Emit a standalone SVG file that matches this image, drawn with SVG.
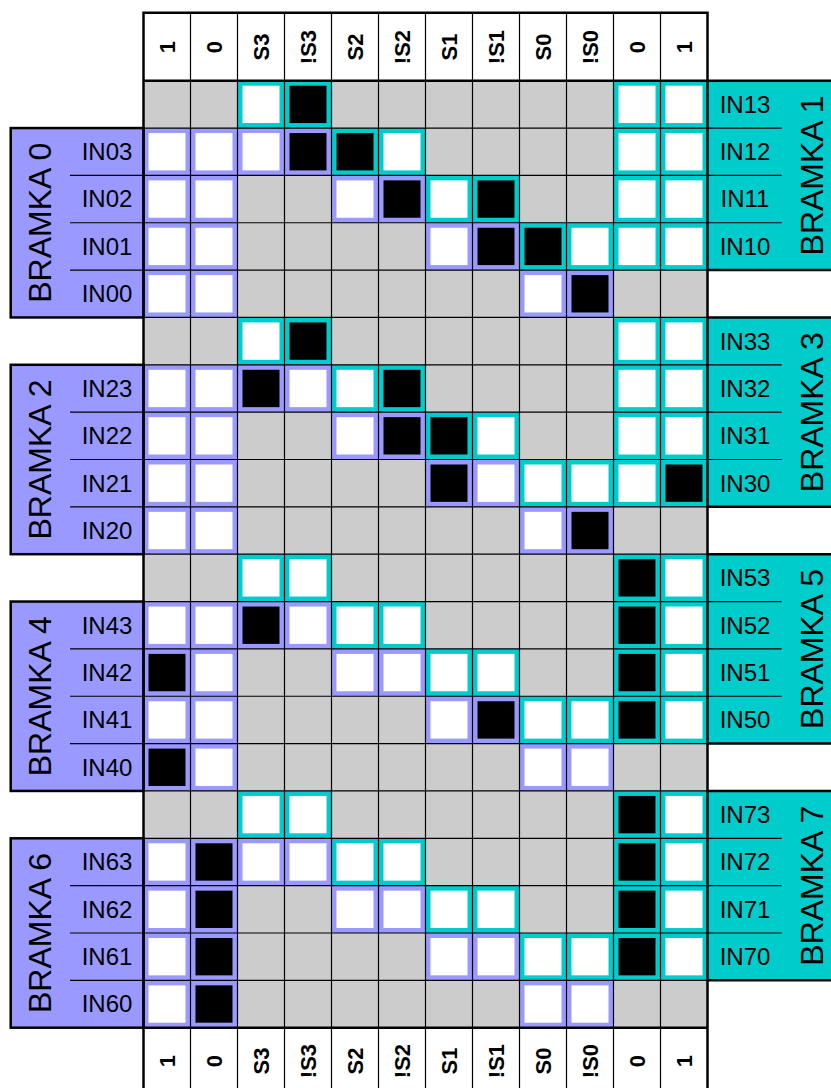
<svg xmlns="http://www.w3.org/2000/svg" width="831" height="1088" viewBox="0 0 831 1088">
<style>
.bg{fill:#fff}
.gr{fill:#cccccc}
.pf{fill:#9999ff}
.cf{fill:#00cccc}
.tp{stroke:#9999ff;stroke-width:5}
.tc{stroke:#00cccc;stroke-width:5}
.w{fill:#fff}
.k{fill:#000}
.thin{stroke:#000;stroke-width:1.2;fill:none}
.thick{stroke:#000;stroke-width:2.5;fill:none}
.hd{font-family:"Liberation Sans",Arial,sans-serif;font-weight:bold;font-size:22px;text-anchor:middle}
.in{font-family:"Liberation Sans",Arial,sans-serif;font-size:24px;text-anchor:middle}
.br{font-family:"Liberation Sans",Arial,sans-serif;font-size:32px;text-anchor:middle}
</style>
<rect class="bg" x="0" y="0" width="831" height="1088"/>
<rect class="gr" x="143.5" y="80.7" width="564" height="947"/>

<g id="bramka0"><rect class="pf" x="10.7" y="128.05" width="132.8" height="189.4"/></g>
<g id="bramka2"><rect class="pf" x="10.7" y="364.8" width="132.8" height="189.4"/></g>
<g id="bramka4"><rect class="pf" x="10.7" y="601.55" width="132.8" height="189.4"/></g>
<g id="bramka6"><rect class="pf" x="10.7" y="838.3" width="132.8" height="189.4"/></g>
<g id="bramka1"><rect class="cf" x="707.5" y="80.7" width="130" height="189.4"/></g>
<g id="bramka3"><rect class="cf" x="707.5" y="317.45" width="130" height="189.4"/></g>
<g id="bramka5"><rect class="cf" x="707.5" y="554.2" width="130" height="189.4"/></g>
<g id="bramka7"><rect class="cf" x="707.5" y="790.95" width="130" height="189.4"/></g>

<g id="tiles">
<g transform="translate(0,80.7)">
<rect class="tc w" x="240" y="2.5" width="42" height="42.35"/>
<rect class="tc k" x="287" y="2.5" width="42" height="42.35"/>
<rect class="tc w" x="616" y="2.5" width="42" height="42.35"/>
<rect class="tc w" x="663" y="2.5" width="42" height="42.35"/>
</g>
<g transform="translate(0,128.05)">
<rect class="tp w" x="146" y="2.5" width="42" height="42.35"/>
<rect class="tp w" x="193" y="2.5" width="42" height="42.35"/>
<rect class="tp w" x="240" y="2.5" width="42" height="42.35"/>
<rect class="tp k" x="287" y="2.5" width="42" height="42.35"/>
<rect class="tc k" x="334" y="2.5" width="42" height="42.35"/>
<rect class="tc w" x="381" y="2.5" width="42" height="42.35"/>
<rect class="tc w" x="616" y="2.5" width="42" height="42.35"/>
<rect class="tc w" x="663" y="2.5" width="42" height="42.35"/>
</g>
<g transform="translate(0,175.4)">
<rect class="tp w" x="146" y="2.5" width="42" height="42.35"/>
<rect class="tp w" x="193" y="2.5" width="42" height="42.35"/>
<rect class="tp w" x="334" y="2.5" width="42" height="42.35"/>
<rect class="tp k" x="381" y="2.5" width="42" height="42.35"/>
<rect class="tc w" x="428" y="2.5" width="42" height="42.35"/>
<rect class="tc k" x="475" y="2.5" width="42" height="42.35"/>
<rect class="tc w" x="616" y="2.5" width="42" height="42.35"/>
<rect class="tc w" x="663" y="2.5" width="42" height="42.35"/>
</g>
<g transform="translate(0,222.75)">
<rect class="tp w" x="146" y="2.5" width="42" height="42.35"/>
<rect class="tp w" x="193" y="2.5" width="42" height="42.35"/>
<rect class="tp w" x="428" y="2.5" width="42" height="42.35"/>
<rect class="tp k" x="475" y="2.5" width="42" height="42.35"/>
<rect class="tc k" x="522" y="2.5" width="42" height="42.35"/>
<rect class="tc w" x="569" y="2.5" width="42" height="42.35"/>
<rect class="tc w" x="616" y="2.5" width="42" height="42.35"/>
<rect class="tc w" x="663" y="2.5" width="42" height="42.35"/>
</g>
<g transform="translate(0,270.1)">
<rect class="tp w" x="146" y="2.5" width="42" height="42.35"/>
<rect class="tp w" x="193" y="2.5" width="42" height="42.35"/>
<rect class="tp w" x="522" y="2.5" width="42" height="42.35"/>
<rect class="tp k" x="569" y="2.5" width="42" height="42.35"/>
</g>
<g transform="translate(0,317.45)">
<rect class="tc w" x="240" y="2.5" width="42" height="42.35"/>
<rect class="tc k" x="287" y="2.5" width="42" height="42.35"/>
<rect class="tc w" x="616" y="2.5" width="42" height="42.35"/>
<rect class="tc w" x="663" y="2.5" width="42" height="42.35"/>
</g>
<g transform="translate(0,364.8)">
<rect class="tp w" x="146" y="2.5" width="42" height="42.35"/>
<rect class="tp w" x="193" y="2.5" width="42" height="42.35"/>
<rect class="tp k" x="240" y="2.5" width="42" height="42.35"/>
<rect class="tp w" x="287" y="2.5" width="42" height="42.35"/>
<rect class="tc w" x="334" y="2.5" width="42" height="42.35"/>
<rect class="tc k" x="381" y="2.5" width="42" height="42.35"/>
<rect class="tc w" x="616" y="2.5" width="42" height="42.35"/>
<rect class="tc w" x="663" y="2.5" width="42" height="42.35"/>
</g>
<g transform="translate(0,412.15)">
<rect class="tp w" x="146" y="2.5" width="42" height="42.35"/>
<rect class="tp w" x="193" y="2.5" width="42" height="42.35"/>
<rect class="tp w" x="334" y="2.5" width="42" height="42.35"/>
<rect class="tp k" x="381" y="2.5" width="42" height="42.35"/>
<rect class="tc k" x="428" y="2.5" width="42" height="42.35"/>
<rect class="tc w" x="475" y="2.5" width="42" height="42.35"/>
<rect class="tc w" x="616" y="2.5" width="42" height="42.35"/>
<rect class="tc w" x="663" y="2.5" width="42" height="42.35"/>
</g>
<g transform="translate(0,459.5)">
<rect class="tp w" x="146" y="2.5" width="42" height="42.35"/>
<rect class="tp w" x="193" y="2.5" width="42" height="42.35"/>
<rect class="tp k" x="428" y="2.5" width="42" height="42.35"/>
<rect class="tp w" x="475" y="2.5" width="42" height="42.35"/>
<rect class="tc w" x="522" y="2.5" width="42" height="42.35"/>
<rect class="tc w" x="569" y="2.5" width="42" height="42.35"/>
<rect class="tc w" x="616" y="2.5" width="42" height="42.35"/>
<rect class="tc k" x="663" y="2.5" width="42" height="42.35"/>
</g>
<g transform="translate(0,506.85)">
<rect class="tp w" x="146" y="2.5" width="42" height="42.35"/>
<rect class="tp w" x="193" y="2.5" width="42" height="42.35"/>
<rect class="tp w" x="522" y="2.5" width="42" height="42.35"/>
<rect class="tp k" x="569" y="2.5" width="42" height="42.35"/>
</g>
<g transform="translate(0,554.2)">
<rect class="tc w" x="240" y="2.5" width="42" height="42.35"/>
<rect class="tc w" x="287" y="2.5" width="42" height="42.35"/>
<rect class="tc k" x="616" y="2.5" width="42" height="42.35"/>
<rect class="tc w" x="663" y="2.5" width="42" height="42.35"/>
</g>
<g transform="translate(0,601.55)">
<rect class="tp w" x="146" y="2.5" width="42" height="42.35"/>
<rect class="tp w" x="193" y="2.5" width="42" height="42.35"/>
<rect class="tp k" x="240" y="2.5" width="42" height="42.35"/>
<rect class="tp w" x="287" y="2.5" width="42" height="42.35"/>
<rect class="tc w" x="334" y="2.5" width="42" height="42.35"/>
<rect class="tc w" x="381" y="2.5" width="42" height="42.35"/>
<rect class="tc k" x="616" y="2.5" width="42" height="42.35"/>
<rect class="tc w" x="663" y="2.5" width="42" height="42.35"/>
</g>
<g transform="translate(0,648.9)">
<rect class="tp k" x="146" y="2.5" width="42" height="42.35"/>
<rect class="tp w" x="193" y="2.5" width="42" height="42.35"/>
<rect class="tp w" x="334" y="2.5" width="42" height="42.35"/>
<rect class="tp w" x="381" y="2.5" width="42" height="42.35"/>
<rect class="tc w" x="428" y="2.5" width="42" height="42.35"/>
<rect class="tc w" x="475" y="2.5" width="42" height="42.35"/>
<rect class="tc k" x="616" y="2.5" width="42" height="42.35"/>
<rect class="tc w" x="663" y="2.5" width="42" height="42.35"/>
</g>
<g transform="translate(0,696.25)">
<rect class="tp w" x="146" y="2.5" width="42" height="42.35"/>
<rect class="tp w" x="193" y="2.5" width="42" height="42.35"/>
<rect class="tp w" x="428" y="2.5" width="42" height="42.35"/>
<rect class="tp k" x="475" y="2.5" width="42" height="42.35"/>
<rect class="tc w" x="522" y="2.5" width="42" height="42.35"/>
<rect class="tc w" x="569" y="2.5" width="42" height="42.35"/>
<rect class="tc k" x="616" y="2.5" width="42" height="42.35"/>
<rect class="tc w" x="663" y="2.5" width="42" height="42.35"/>
</g>
<g transform="translate(0,743.6)">
<rect class="tp k" x="146" y="2.5" width="42" height="42.35"/>
<rect class="tp w" x="193" y="2.5" width="42" height="42.35"/>
<rect class="tp w" x="522" y="2.5" width="42" height="42.35"/>
<rect class="tp w" x="569" y="2.5" width="42" height="42.35"/>
</g>
<g transform="translate(0,790.95)">
<rect class="tc w" x="240" y="2.5" width="42" height="42.35"/>
<rect class="tc w" x="287" y="2.5" width="42" height="42.35"/>
<rect class="tc k" x="616" y="2.5" width="42" height="42.35"/>
<rect class="tc w" x="663" y="2.5" width="42" height="42.35"/>
</g>
<g transform="translate(0,838.3)">
<rect class="tp w" x="146" y="2.5" width="42" height="42.35"/>
<rect class="tp k" x="193" y="2.5" width="42" height="42.35"/>
<rect class="tp w" x="240" y="2.5" width="42" height="42.35"/>
<rect class="tp w" x="287" y="2.5" width="42" height="42.35"/>
<rect class="tc w" x="334" y="2.5" width="42" height="42.35"/>
<rect class="tc w" x="381" y="2.5" width="42" height="42.35"/>
<rect class="tc k" x="616" y="2.5" width="42" height="42.35"/>
<rect class="tc w" x="663" y="2.5" width="42" height="42.35"/>
</g>
<g transform="translate(0,885.65)">
<rect class="tp w" x="146" y="2.5" width="42" height="42.35"/>
<rect class="tp k" x="193" y="2.5" width="42" height="42.35"/>
<rect class="tp w" x="334" y="2.5" width="42" height="42.35"/>
<rect class="tp w" x="381" y="2.5" width="42" height="42.35"/>
<rect class="tc w" x="428" y="2.5" width="42" height="42.35"/>
<rect class="tc w" x="475" y="2.5" width="42" height="42.35"/>
<rect class="tc k" x="616" y="2.5" width="42" height="42.35"/>
<rect class="tc w" x="663" y="2.5" width="42" height="42.35"/>
</g>
<g transform="translate(0,933)">
<rect class="tp w" x="146" y="2.5" width="42" height="42.35"/>
<rect class="tp k" x="193" y="2.5" width="42" height="42.35"/>
<rect class="tp w" x="428" y="2.5" width="42" height="42.35"/>
<rect class="tp w" x="475" y="2.5" width="42" height="42.35"/>
<rect class="tc w" x="522" y="2.5" width="42" height="42.35"/>
<rect class="tc w" x="569" y="2.5" width="42" height="42.35"/>
<rect class="tc k" x="616" y="2.5" width="42" height="42.35"/>
<rect class="tc w" x="663" y="2.5" width="42" height="42.35"/>
</g>
<g transform="translate(0,980.35)">
<rect class="tp w" x="146" y="2.5" width="42" height="42.35"/>
<rect class="tp k" x="193" y="2.5" width="42" height="42.35"/>
<rect class="tp w" x="522" y="2.5" width="42" height="42.35"/>
<rect class="tp w" x="569" y="2.5" width="42" height="42.35"/>
</g>
</g>

<g id="connectors">
<path class="thin" d="M190.5 12.7V1088M237.5 12.7V1088M284.5 12.7V1088M331.5 12.7V1088M378.5 12.7V1088M425.5 12.7V1088M472.5 12.7V1088M519.5 12.7V1088M566.5 12.7V1088M613.5 12.7V1088M660.5 12.7V1088"/>
<path class="thin" d="M143.5 128.05H781.7M70 175.4H781.7M70 222.75H781.7M70 270.1H707.5M143.5 317.45H707.5M143.5 364.8H781.7M70 412.15H781.7M70 459.5H781.7M70 506.85H707.5M143.5 554.2H707.5M143.5 601.55H781.7M70 648.9H781.7M70 696.25H781.7M70 743.6H707.5M143.5 790.95H707.5M143.5 838.3H781.7M70 885.65H781.7M70 933H781.7M70 980.35H707.5"/>
<path class="thick" d="M143.5 1088V12.7H707.5V1088M143.5 80.7H831M143.5 1027.7H707.5M707.5 270.1H831M707.5 317.45H831M707.5 506.85H831M707.5 554.2H831M707.5 743.6H831M707.5 790.95H831M707.5 980.35H831"/>
<rect class="thick" x="10.7" y="128.05" width="132.8" height="189.4"/>
<rect class="thick" x="10.7" y="364.8" width="132.8" height="189.4"/>
<rect class="thick" x="10.7" y="601.55" width="132.8" height="189.4"/>
<rect class="thick" x="10.7" y="838.3" width="132.8" height="189.4"/>
</g>

<g id="header-top" class="hd">
<text transform="translate(167,47) rotate(-90)" dy="0.35em">1</text>
<text transform="translate(214,47) rotate(-90)" dy="0.35em">0</text>
<text transform="translate(261,47) rotate(-90)" dy="0.35em">S3</text>
<text transform="translate(308,47) rotate(-90)" dy="0.35em">!S3</text>
<text transform="translate(355,47) rotate(-90)" dy="0.35em">S2</text>
<text transform="translate(402,47) rotate(-90)" dy="0.35em">!S2</text>
<text transform="translate(449,47) rotate(-90)" dy="0.35em">S1</text>
<text transform="translate(496,47) rotate(-90)" dy="0.35em">!S1</text>
<text transform="translate(543,47) rotate(-90)" dy="0.35em">S0</text>
<text transform="translate(590,47) rotate(-90)" dy="0.35em">!S0</text>
<text transform="translate(637,47) rotate(-90)" dy="0.35em">0</text>
<text transform="translate(684,47) rotate(-90)" dy="0.35em">1</text>
</g>
<g id="header-bottom" class="hd">
<text transform="translate(167,1061) rotate(-90)" dy="0.35em">1</text>
<text transform="translate(214,1061) rotate(-90)" dy="0.35em">0</text>
<text transform="translate(261,1061) rotate(-90)" dy="0.35em">S3</text>
<text transform="translate(308,1061) rotate(-90)" dy="0.35em">!S3</text>
<text transform="translate(355,1061) rotate(-90)" dy="0.35em">S2</text>
<text transform="translate(402,1061) rotate(-90)" dy="0.35em">!S2</text>
<text transform="translate(449,1061) rotate(-90)" dy="0.35em">S1</text>
<text transform="translate(496,1061) rotate(-90)" dy="0.35em">!S1</text>
<text transform="translate(543,1061) rotate(-90)" dy="0.35em">S0</text>
<text transform="translate(590,1061) rotate(-90)" dy="0.35em">!S0</text>
<text transform="translate(637,1061) rotate(-90)" dy="0.35em">0</text>
<text transform="translate(684,1061) rotate(-90)" dy="0.35em">1</text>
</g>

<g id="labels-left" class="in">
<text x="107" y="151.73" dy="0.35em">IN03</text>
<text x="107" y="199.08" dy="0.35em">IN02</text>
<text x="107" y="246.43" dy="0.35em">IN01</text>
<text x="107" y="293.78" dy="0.35em">IN00</text>
<text x="107" y="388.48" dy="0.35em">IN23</text>
<text x="107" y="435.83" dy="0.35em">IN22</text>
<text x="107" y="483.18" dy="0.35em">IN21</text>
<text x="107" y="530.53" dy="0.35em">IN20</text>
<text x="107" y="625.23" dy="0.35em">IN43</text>
<text x="107" y="672.58" dy="0.35em">IN42</text>
<text x="107" y="719.93" dy="0.35em">IN41</text>
<text x="107" y="767.28" dy="0.35em">IN40</text>
<text x="107" y="861.98" dy="0.35em">IN63</text>
<text x="107" y="909.33" dy="0.35em">IN62</text>
<text x="107" y="956.68" dy="0.35em">IN61</text>
<text x="107" y="1004.03" dy="0.35em">IN60</text>
</g>
<g id="labels-right" class="in">
<text x="745" y="104.38" dy="0.35em">IN13</text>
<text x="745" y="151.73" dy="0.35em">IN12</text>
<text x="745" y="199.08" dy="0.35em">IN11</text>
<text x="745" y="246.43" dy="0.35em">IN10</text>
<text x="745" y="341.13" dy="0.35em">IN33</text>
<text x="745" y="388.48" dy="0.35em">IN32</text>
<text x="745" y="435.83" dy="0.35em">IN31</text>
<text x="745" y="483.18" dy="0.35em">IN30</text>
<text x="745" y="577.88" dy="0.35em">IN53</text>
<text x="745" y="625.23" dy="0.35em">IN52</text>
<text x="745" y="672.58" dy="0.35em">IN51</text>
<text x="745" y="719.93" dy="0.35em">IN50</text>
<text x="745" y="814.63" dy="0.35em">IN73</text>
<text x="745" y="861.98" dy="0.35em">IN72</text>
<text x="745" y="909.33" dy="0.35em">IN71</text>
<text x="745" y="956.68" dy="0.35em">IN70</text>
</g>
<g id="gate-names" class="br">
<text transform="translate(40,222.75) rotate(-90)" dy="0.35em">BRAMKA 0</text>
<text transform="translate(40,459.5) rotate(-90)" dy="0.35em">BRAMKA 2</text>
<text transform="translate(40,696.25) rotate(-90)" dy="0.35em">BRAMKA 4</text>
<text transform="translate(40,933) rotate(-90)" dy="0.35em">BRAMKA 6</text>
<text transform="translate(812,175.4) rotate(-90)" dy="0.35em">BRAMKA 1</text>
<text transform="translate(812,412.15) rotate(-90)" dy="0.35em">BRAMKA 3</text>
<text transform="translate(812,648.9) rotate(-90)" dy="0.35em">BRAMKA 5</text>
<text transform="translate(812,885.65) rotate(-90)" dy="0.35em">BRAMKA 7</text>
</g>
</svg>
